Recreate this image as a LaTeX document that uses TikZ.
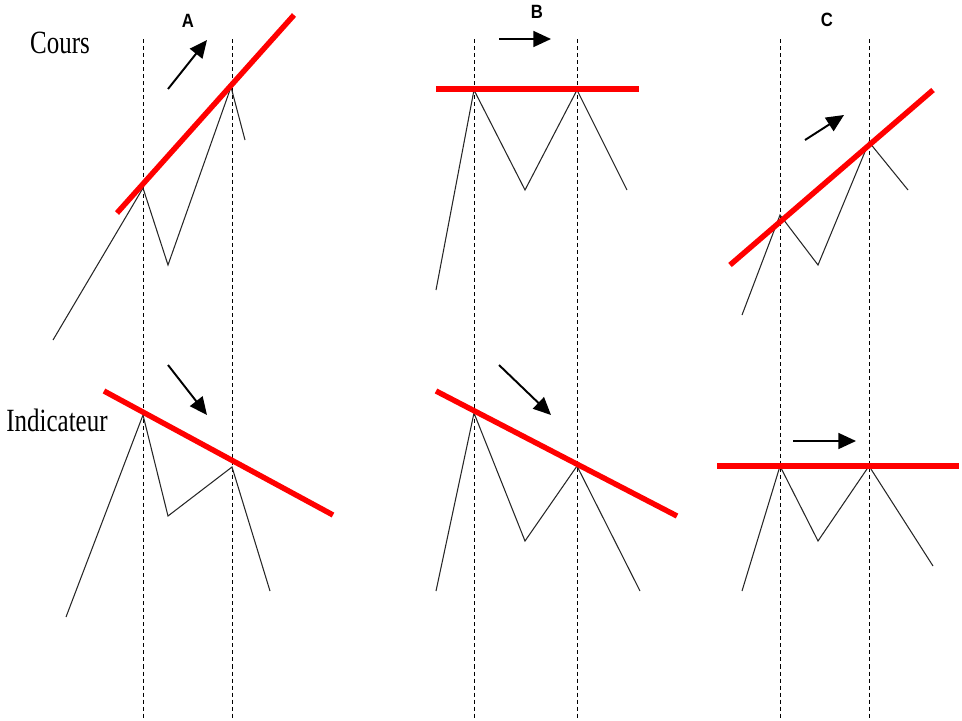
\documentclass[tikz,border=0pt]{standalone}
\usepackage{fontspec}
\setmainfont{Liberation Serif}
\setsansfont{Liberation Sans}
\usetikzlibrary{arrows.meta,calc,positioning}

\tikzset{
  price/.style={line width=0.6pt, black!85},
  trend/.style={line width=3.1pt, red},
  guide/.style={dash pattern=on 2.3pt off 1.7pt, line width=0.5pt},
  move/.style={line width=1.1pt, -{Triangle[length=10pt,width=9pt]}},
  title/.style={font=\sffamily\bfseries\fontsize{9.5}{9.5}\selectfont, yscale=1.15, transform shape},
  side/.style={font=\fontsize{14.2}{14.2}\selectfont, yscale=1.3, transform shape},
}

\begin{document}
\begin{tikzpicture}[x=0.02cm, y=-0.02cm]
  \useasboundingbox (0,0) rectangle (962,720);

  % labels
  \node[side] (cours) at (60,43) {Cours};
  \node[side] (indic) at (57,420) {Indicateur};
  \node[title] (tA) at (188,21) {A};
  \node[title] (tB) at (537,12) {B};
  \node[title] (tC) at (827,20) {C};

  % dashed guides
  \foreach \x in {143,232,474,577,780,869}
    \draw[guide] (\x,39) -- (\x,720);

  % case A, price
  \coordinate (a1) at (53,340);
  \coordinate (a2) at (143,188);
  \coordinate (a3) at (168,265);
  \coordinate (a4) at (231,87);
  \coordinate (a5) at (245,140);
  \draw[price] (a1) -- (a2) -- (a3) -- (a4) -- (a5);
  \draw[trend] (117,213) -- (294,15);
  \draw[move] (168,89) -- (207,40);

  % case A, indicator
  \coordinate (ia1) at (66,617);
  \coordinate (ia2) at (143,415);
  \coordinate (ia3) at (168,516);
  \coordinate (ia4) at (232,467);
  \coordinate (ia5) at (270,591);
  \draw[price] (ia1) -- (ia2) -- (ia3) -- (ia4) -- (ia5);
  \draw[trend] (104,391) -- (333,515);
  \draw[move] (168,365) -- (207,415);

  % case B, price
  \coordinate (b1) at (436,290);
  \coordinate (b2) at (474,90);
  \coordinate (b3) at (525,190);
  \coordinate (b4) at (577,90);
  \coordinate (b5) at (627,190);
  \draw[price] (b1) -- (b2) -- (b3) -- (b4) -- (b5);
  \draw[trend] (436,89) -- (639,89);
  \draw[move] (499,39) -- (551,39);

  % case B, indicator
  \coordinate (ib1) at (436,591);
  \coordinate (ib2) at (474,413);
  \coordinate (ib3) at (525,541);
  \coordinate (ib4) at (577,466);
  \coordinate (ib5) at (640,591);
  \draw[price] (ib1) -- (ib2) -- (ib3) -- (ib4) -- (ib5);
  \draw[trend] (436,391) -- (677,516);
  \draw[move] (499,365) -- (551,415);

  % case C, price
  \coordinate (c1) at (742,315);
  \coordinate (c2) at (780,215);
  \coordinate (c3) at (818,265);
  \coordinate (c4) at (869,142);
  \coordinate (c5) at (908,190);
  \draw[price] (c1) -- (c2) -- (c3) -- (c4) -- (c5);
  \draw[trend] (730,265) -- (933,90);
  \draw[move] (805,140) -- (844,115);

  % case C, indicator
  \coordinate (ic1) at (742,591);
  \coordinate (ic2) at (780,466);
  \coordinate (ic3) at (818,541);
  \coordinate (ic4) at (869,466);
  \coordinate (ic5) at (933,566);
  \draw[price] (ic1) -- (ic2) -- (ic3) -- (ic4) -- (ic5);
  \draw[trend] (717,466) -- (959,466);
  \draw[move] (793,441) -- (856,441);
\end{tikzpicture}
\end{document}
